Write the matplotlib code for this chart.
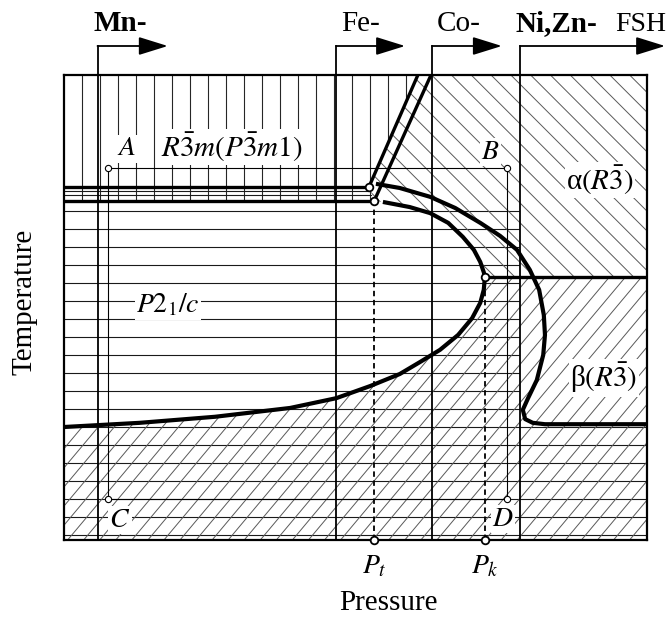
import numpy as np
import matplotlib.pyplot as plt
from matplotlib.patches import Polygon
from matplotlib.collections import LineCollection

plt.rcParams['font.family'] = ['Liberation Serif', 'DejaVu Serif']
plt.rcParams['mathtext.fontset'] = 'stix'

# schematic units: pressure and temperature both run 0..100 inside the frame
compounds = ['Mn-', 'Fe-', 'Co-', 'Ni,Zn-']
compound_p = [5.75, 46.66, 63.12, 78.2]
compound_label_p = [5.0, 47.5, 64.0, 77.5]
arrow_tip_p = [17.8, 58.5, 75.1, 103.1]
bold_label = [True, False, False, True]

# double line between R-3m and P21/c, ending at the two triple points
t_upper, t_lower = 75.9, 72.9
p_tri1, p_tri2 = 52.3, 53.2
slant_top_p = [60.7, 62.95]

# outer boundary (alpha / beta side)
outer_p = [53.5, 57.6, 62.8, 67.1, 71.4, 74.8, 77.7, 79.9, 81.5, 82.3, 82.5,
           82.2, 81.1, 79.6, 78.7, 79.1, 80.4, 82.5, 100.0]
outer_t = [76.6, 75.7, 73.8, 71.4, 68.2, 65.4, 62.4, 58.1, 53.8, 48.4, 44.1,
           39.8, 34.4, 30.5, 28.0, 26.0, 25.2, 24.9, 24.9]

# inner C-shaped boundary of P21/c
inner_p = [54.7, 59.3, 62.8, 65.9, 68.4, 70.3, 71.4, 72.0, 72.2, 72.0, 71.4,
           70.0, 67.6, 64.5, 61.1, 57.6, 52.5, 46.7, 38.8, 25.9, 13.0, 0.0]
inner_t = [72.7, 71.6, 70.3, 68.2, 65.2, 62.4, 59.8, 57.6, 56.6, 53.8, 51.0,
           47.7, 44.1, 40.9, 38.3, 35.7, 33.1, 30.5, 28.4, 26.5, 25.2, 24.3]
k_index = 8  # P_k, rightmost point of the inner curve

p_t = p_tri2
p_k, t_k = inner_p[k_index], inner_t[k_index]

# A, B, C, D path
path_p = [7.55, 76.0]
path_t = [80.0, 8.8]

W, H = 666, 620
L, R, B, T = 64, 647, 540, 75
fig = plt.figure(figsize=(W / 100, H / 100), dpi=100)
ax = fig.add_axes([L / W, 1 - B / H, (R - L) / W, (B - T) / H])
ax.set_xlim(0, 100)
ax.set_ylim(0, 100)
ax.set_xticks([])
ax.set_yticks([])
for s in ax.spines.values():
    s.set_linewidth(1.6)
    s.set_zorder(6)

sx = (R - L) / 100.0
sy = (B - T) / 100.0


def family(angle_deg, spacing_px):
    """Parallel lines at a pixel-space angle, covering the whole frame."""
    a = np.deg2rad(angle_deg)
    d = np.array([np.cos(a), np.sin(a)])
    n = np.array([-np.sin(a), np.cos(a)])
    span = 1200
    segs = []
    for off in np.arange(-span, span, spacing_px):
        o = n * off + np.array([300, 230])
        p0 = o - d * span
        p1 = o + d * span
        segs.append([(p0[0] / sx, p0[1] / sy), (p1[0] / sx, p1[1] / sy)])
    return segs


def clipped(segs, poly_xy, color, lw):
    patch = Polygon(poly_xy, closed=True, facecolor='none', edgecolor='none')
    ax.add_patch(patch)
    lc = LineCollection(segs, colors=color, linewidths=lw, zorder=1)
    ax.add_collection(lc)
    lc.set_clip_path(patch)


# R-3m: vertical hatching
region_r3m = [(0, t_lower), (0, 100), (slant_top_p[0], 100), (p_tri1, t_upper),
              (p_tri2, t_lower)]
vsegs = [[(x, 0), (x, 100)] for x in np.arange(18 / sx, 100, 18 / sx)]
clipped(vsegs, region_r3m, '0.15', 0.8)

# P21/c: horizontal hatching
region_p21 = [(0, 0), (100, 0), (100, outer_t[-1]), (compound_p[3], outer_t[-1]),
              (compound_p[3], t_lower), (p_tri2, t_lower), (p_tri1, t_upper),
              (0, t_upper)]
hy = list(np.arange((B - 211) / sy, 0, -18 / sy)) + [(B - 191) / sy, (B - 195) / sy]
hsegs = [[(0, y), (100, y)] for y in hy]
clipped(hsegs, region_p21, '0.1', 0.8)

# alpha: back-slash hatching
region_alpha = ([(slant_top_p[0], 100), (100, 100), (100, t_k)]
                + list(zip(inner_p[:k_index + 1], inner_t[:k_index + 1]))[::-1]
                + [(p_tri2, t_lower), (p_tri1, t_upper)])
clipped(family(-45, 14), region_alpha, '0.35', 0.7)

# beta: slash hatching
region_beta = ([(p_k, t_k), (100, t_k), (100, 0), (0, 0)]
               + list(zip(inner_p[k_index:], inner_t[k_index:]))[::-1])
clipped(family(50, 12.3), region_beta, '0.35', 0.7)

# A-B-C-D path
ax.plot([path_p[0], path_p[1], path_p[1], path_p[0], path_p[0]],
        [path_t[0], path_t[0], path_t[1], path_t[1], path_t[0]],
        color='k', lw=0.8, zorder=2)
ax.plot([path_p[0], path_p[1], path_p[0], path_p[1]],
        [path_t[0], path_t[0], path_t[1], path_t[1]],
        ls='none', marker='o', ms=4.5, mfc='white', mec='k', mew=0.8, zorder=5)

# compound columns and arrows
arrow_t = (B - 46) / sy
label_t = (B - 31) / sy
for name, p, lp, tip, bold in zip(compounds, compound_p, compound_label_p,
                                  arrow_tip_p, bold_label):
    ax.plot([p, p], [0, arrow_t], color='k', lw=1.3, zorder=3, clip_on=False)
    ax.annotate('', xy=(tip, arrow_t), xytext=(p, arrow_t),
                arrowprops=dict(arrowstyle='-|>,head_length=0.9,head_width=0.28',
                                mutation_scale=20, lw=1.3, color='k',
                                shrinkA=0, shrinkB=0),
                annotation_clip=False, zorder=3)
    ax.text(lp, label_t, name, fontsize=21, ha='left', va='baseline',
            fontweight='bold' if bold else 'normal', clip_on=False)
ax.text(103.3, label_t, 'FSH', fontsize=20, ha='right', va='baseline',
        clip_on=False)

# phase boundaries
ax.plot([0, p_tri1], [t_upper, t_upper], color='k', lw=2.4, zorder=3)
ax.plot([0, p_tri2], [t_lower, t_lower], color='k', lw=2.4, zorder=3)
ax.plot([p_tri1, slant_top_p[0]], [t_upper, 100], color='k', lw=2.4, zorder=3)
ax.plot([p_tri2, slant_top_p[1]], [t_lower, 100], color='k', lw=2.4, zorder=3)
ax.plot(outer_p, outer_t, color='k', lw=3.0, zorder=3, solid_capstyle='butt')
ax.plot(inner_p, inner_t, color='k', lw=3.0, zorder=3, solid_capstyle='butt')
ax.plot([p_k, 100], [t_k, t_k], color='k', lw=2.4, zorder=3)

# P_t and P_k
ax.plot([p_t, p_t], [0, t_lower], color='k', lw=1.3, ls=(0, (3, 2)), zorder=3)
ax.plot([p_k, p_k], [0, t_k], color='k', lw=1.3, ls=(0, (3, 2)), zorder=3)
ax.plot([p_tri1, p_tri2, p_k, p_t, p_k], [t_upper, t_lower, t_k, 0, 0],
        ls='none', marker='o', ms=5.5, mfc='white', mec='k', mew=1.3,
        zorder=7, clip_on=False)

# labels
bg = dict(facecolor='white', edgecolor='none', pad=1.0)
ax.text(10.8, 84.1, '$A$', fontsize=20, ha='center', va='center', bbox=bg, zorder=4)
ax.text(73.1, 83.4, '$B$', fontsize=20, ha='center', va='center', bbox=bg, zorder=4)
ax.text(9.6, 4.3, '$C$', fontsize=20, ha='center', va='center', bbox=bg, zorder=4)
ax.text(75.3, 4.5, '$D$', fontsize=20, ha='center', va='center', bbox=bg, zorder=4)
ax.text(28.8, 84.5, r'$R\bar{3}m(P\bar{3}m1)$', fontsize=21, ha='center',
        va='center', bbox=bg, zorder=4)
ax.text(91.9, 77.4, r'α$(R\bar{3})$', fontsize=21, ha='center', va='center',
        bbox=bg, zorder=4)
ax.text(17.8, 50.5, r'$P2_1/c$', fontsize=20, ha='center', va='center',
        bbox=bg, zorder=4)
ax.text(92.6, 34.8, r'β$(R\bar{3})$', fontsize=21, ha='center', va='center',
        bbox=bg, zorder=4)
ax.text(p_t, -5.8, '$P_t$', fontsize=20, ha='center', va='center', clip_on=False)
ax.text(p_k, -5.8, '$P_k$', fontsize=20, ha='center', va='center', clip_on=False)

fig.text(388 / W, 1 - 603 / H, 'Pressure', fontsize=21, ha='center', va='center')
fig.text(25 / W, 1 - 302 / H, 'Temperature', fontsize=21, ha='center',
         va='center', rotation=90)

fig.savefig('out.png', dpi=100)
